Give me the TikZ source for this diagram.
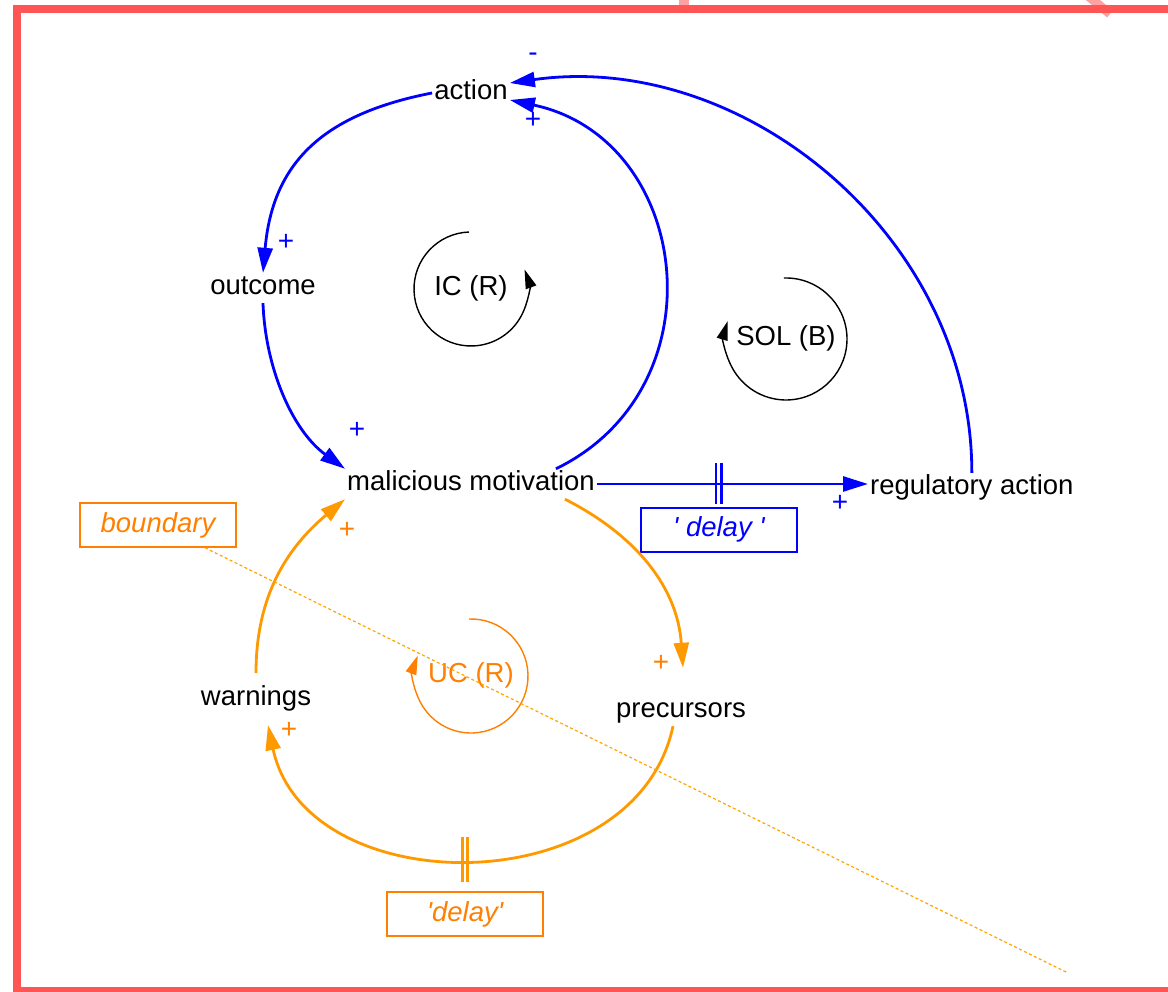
\documentclass[tikz,border=0pt]{standalone}
\usepackage{fontspec}
\setmainfont{Liberation Sans}
\usepackage{xcolor}
\definecolor{sblue}{RGB}{0,0,255}
\definecolor{sorange}{RGB}{255,153,0}
\definecolor{torange}{RGB}{255,128,0}
\definecolor{dorange}{RGB}{255,165,0}
\definecolor{sframe}{RGB}{255,85,85}
\usetikzlibrary{arrows.meta,positioning,calc}
\tikzset{
  var/.style={font=\fontsize{27.5}{33}\selectfont,inner sep=2pt,%
    text height=20pt,text depth=6pt},
  pol/.style={font=\fontsize{28}{32}\selectfont,inner sep=0pt},
  infl/.style={-{Triangle[length=25pt,width=15pt]},line width=2.8pt},
  loopsym/.style={-{Triangle[length=19pt,width=11pt]},line width=1.4pt},
  delaybox/.style={draw,line width=1.6pt,minimum width=156pt,minimum height=44pt,%
    inner sep=0pt,font=\fontsize{27.5}{33}\selectfont\itshape},
  delaytick/.style={line width=2.8pt},
}

\begin{document}
\begin{tikzpicture}[x=1pt,y=1pt]
\useasboundingbox (0,0) rectangle (1168,992);
\clip (0,0) rectangle (1168,992);
% frame
\draw[sframe!55,line width=10pt] (684,980) -- (684,996);
\draw[sframe!55,line width=9pt] (1110,978) -- (1088,996);
\draw[sframe,line width=8pt] (16.7,1) rectangle (1190,982.5);

% variables
\node[var] (action) at (471,899) {action};
\node[var] (outcome) at (263,704) {outcome};
\node[var] (motiv) at (471,508) {malicious motivation};
\node[var,anchor=west] (reg) at (868,504) {regulatory action};
\node[var] (warn) at (256,293) {warnings};
\node[var] (prec) at (681,281) {precursors};

% loop markers
\node[var] (icl) at (471,703) {IC (R)};
\draw[loopsym] ([shift={(92:57)}]icl.center) arc[start angle=92,end angle=380,radius=57];
\node[var] (soll) at (786,653) {SOL (B)};
\draw[loopsym] ([shift={(92:61)}]soll.center) arc[start angle=92,end angle=-197,radius=61];
\node[var,text=torange] (ucl) at (471,316) {UC (R)};
\draw[loopsym,torange] ([shift={(92:57)}]ucl.center) arc[start angle=92,end angle=-201,radius=57];

% IC and SOL links
\draw[infl,sblue] (action.west) to[out=191,in=85,looseness=1.15] (outcome.north);
\draw[infl,sblue] (outcome.south) to[out=-88,in=144,looseness=0.9] (motiv.north west);
\draw[infl,sblue] ([xshift=85pt]motiv.north) to[out=26,in=-12,looseness=1.28] ([yshift=-7pt]action.east);
\draw[infl,sblue] (reg.north) to[out=90,in=8] ([yshift=10pt]action.east);
\draw[infl,sblue] (motiv.east) -- coordinate[pos=0.45] (dly1) (motiv.east -| reg.west);
\draw[delaytick,sblue] ([shift={(-2.9pt,20.5pt)}]dly1) -- ([shift={(-2.9pt,-20.5pt)}]dly1);
\draw[delaytick,sblue] ([shift={(2.9pt,20.5pt)}]dly1) -- ([shift={(2.9pt,-20.5pt)}]dly1);
\node[delaybox,sblue,below=23pt of dly1] (dbox1) {\textquotesingle\ delay\ \textquotesingle};

% UC links
\draw[infl,sorange] ([xshift=94pt]motiv.south) to[out=-27,in=94] ([shift={(2pt,28pt)}]prec.north);
\draw[infl,sorange] ([xshift=-8pt]prec.south) to[out=-102,in=-78,looseness=1.15]
  coordinate[pos=0.51] (dly2) ([shift={(12pt,-11pt)}]warn.south);
\draw[infl,sorange] ([yshift=11pt]warn.north) to[out=90,in=-140] (motiv.south west);
\draw[delaytick,sorange] ([shift={(-2.5pt,22.5pt)}]dly2) -- ([shift={(-2.5pt,-22.5pt)}]dly2);
\draw[delaytick,sorange] ([shift={(2.5pt,22.5pt)}]dly2) -- ([shift={(2.5pt,-22.5pt)}]dly2);
\node[delaybox,torange,below=32pt of dly2] (dbox2) {\textquotesingle delay\textquotesingle};

% boundary
\node[delaybox,torange] (bnd) at (158,467) {boundary};
\coordinate (bend) at (1068,19);
\draw[dorange,line width=1.2pt,dash pattern=on 3pt off 2.5pt] ([xshift=47pt]bnd.south) -- (bend);

% polarities
\node[pol,sblue] (p1) at (286,750) {+};
\node[pol,sblue] (p2) at (357,562) {+};
\node[pol,sblue] (p3) at (533,872) {+};
\node[pol,sblue] (p4) at (533,935) {-};
\node[pol,sblue] (p5) at (840,489) {+};
\node[pol,torange] (p6) at (661,329) {+};
\node[pol,torange] (p7) at (289,262) {+};
\node[pol,torange] (p8) at (347,462) {+};
\end{tikzpicture}
\end{document}
